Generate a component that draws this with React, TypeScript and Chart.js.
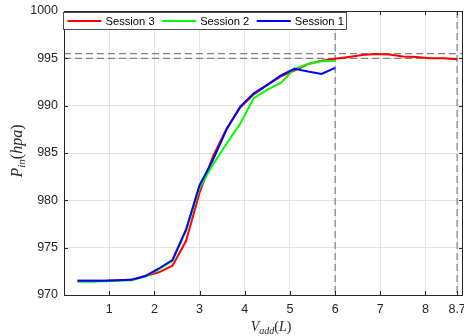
import React, { useEffect, useRef } from "react";
import { Chart, registerables } from "chart.js";

Chart.register(...registerables);

// ---- data ----
const xShort = [0.3, 0.6, 0.9, 1.2, 1.5, 1.8, 2.1, 2.4, 2.7, 3.0, 3.3, 3.6, 3.9, 4.2, 4.5, 4.8, 5.1, 5.4, 5.7, 6.0];
const xLong = [0.3, 0.6, 0.9, 1.2, 1.5, 1.8, 2.1, 2.4, 2.7, 3.0, 3.3, 3.6, 3.9, 4.2, 4.5, 4.8, 5.1, 5.4, 5.7, 6.0, 6.3, 6.6, 6.9, 7.2, 7.5, 7.8, 8.1, 8.4, 8.7];
const session3 = [971.5, 971.5, 971.5, 971.55, 971.65, 972.0, 972.4, 973.1, 975.7, 980.8, 984.7, 987.6, 989.8, 991.2, 992.2, 993.1, 993.7, 994.4, 994.75, 994.95, 995.15, 995.35, 995.45, 995.4, 995.2, 995.15, 995.0, 995.0, 994.9];
const session2 = [971.4, 971.4, 971.45, 971.5, 971.55, 971.95, 972.7, 973.6, 976.8, 981.3, 983.8, 986.0, 988.1, 990.8, 991.7, 992.4, 993.9, 994.4, 994.7, 994.75];
const session1 = [971.5, 971.5, 971.5, 971.55, 971.6, 972.0, 972.8, 973.7, 976.9, 981.6, 984.3, 987.5, 989.9, 991.3, 992.2, 993.2, 993.9, 993.6, 993.35, 994.0];
const seriesLabels = ["Session 3", "Session 2", "Session 1"];
const seriesColors = ["#ff0000", "#00ff00", "#0000ff"];
const xTicks = [1, 2, 3, 4, 5, 6, 7, 8, 8.7];
const yTicks = [970, 975, 980, 985, 990, 995, 1000];
const refLinesY = [995, 995.5];
const refLinesX = [6, 8.7];

const AXIS_COLOR = "#262626";
const SANS = "'Liberation Sans', Arial, sans-serif";
const SERIF = "'Liberation Serif', 'Times New Roman', serif";

type Part = { t: string; italic: boolean; size: number; dy: number };

function drawParts(ctx: CanvasRenderingContext2D, parts: Part[], cx: number, baseline: number) {
  let total = 0;
  const widths = parts.map((p) => {
    ctx.font = `${p.italic ? "italic " : ""}${p.size}px ${SERIF}`;
    const w = ctx.measureText(p.t).width;
    total += w;
    return w;
  });
  let x = cx - total / 2;
  parts.forEach((p, i) => {
    ctx.font = `${p.italic ? "italic " : ""}${p.size}px ${SERIF}`;
    ctx.fillText(p.t, x, baseline + p.dy);
    x += widths[i];
  });
}

const refLinesPlugin = {
  id: "refLines",
  beforeDatasetsDraw(chart: any) {
    const { ctx, chartArea: a, scales } = chart;
    ctx.save();
    ctx.strokeStyle = "#808080";
    ctx.lineWidth = 1.2;
    ctx.setLineDash([7, 4]);
    refLinesY.forEach((v) => {
      const y = scales.y.getPixelForValue(v);
      ctx.beginPath();
      ctx.moveTo(a.left, y);
      ctx.lineTo(a.right, y);
      ctx.stroke();
    });
    refLinesX.forEach((v) => {
      const x = scales.x.getPixelForValue(v);
      ctx.beginPath();
      ctx.moveTo(x, a.top);
      ctx.lineTo(x, a.bottom);
      ctx.stroke();
    });
    ctx.restore();
  },
};

const framePlugin = {
  id: "frame",
  afterDatasetsDraw(chart: any) {
    const { ctx, chartArea: a, scales } = chart;
    ctx.save();
    // box
    ctx.strokeStyle = AXIS_COLOR;
    ctx.lineWidth = 1;
    ctx.strokeRect(a.left + 0.5, a.top + 0.5, a.right - a.left - 1, a.bottom - a.top);
    // inward ticks
    ctx.beginPath();
    xTicks.forEach((v) => {
      const x = Math.round(scales.x.getPixelForValue(v)) + 0.5;
      ctx.moveTo(x, a.bottom);
      ctx.lineTo(x, a.bottom - 4);
      ctx.moveTo(x, a.top);
      ctx.lineTo(x, a.top + 4);
    });
    yTicks.forEach((v) => {
      const y = Math.round(scales.y.getPixelForValue(v)) + 0.5;
      ctx.moveTo(a.left, y);
      ctx.lineTo(a.left + 4, y);
      ctx.moveTo(a.right, y);
      ctx.lineTo(a.right - 4, y);
    });
    ctx.stroke();

    // legend
    ctx.font = `11.2px ${SANS}`;
    const boxLeft = a.left - 0.5;
    const boxTop = a.top + 1.5;
    const boxH = 17;
    let x = boxLeft + 4;
    const items = seriesLabels.map((lab, i) => {
      const lx = x;
      const tx = x + 38;
      const tw = ctx.measureText(lab).width;
      x = tx + tw + 7.5;
      return { lab, color: seriesColors[i], lx, tx };
    });
    const boxRight = x - 7.5 + 2.5;
    ctx.fillStyle = "#ffffff";
    ctx.fillRect(boxLeft, boxTop, boxRight - boxLeft, boxH);
    ctx.strokeStyle = AXIS_COLOR;
    ctx.lineWidth = 0.8;
    ctx.strokeRect(boxLeft, boxTop, boxRight - boxLeft, boxH);
    const cy = boxTop + boxH / 2;
    items.forEach((it) => {
      ctx.strokeStyle = it.color;
      ctx.lineWidth = 2;
      ctx.beginPath();
      ctx.moveTo(it.lx, cy);
      ctx.lineTo(it.lx + 34, cy);
      ctx.stroke();
      ctx.fillStyle = "#000000";
      ctx.textBaseline = "middle";
      ctx.fillText(it.lab, it.tx, cy + 0.5);
    });
    ctx.restore();
  },
  afterDraw(chart: any) {
    const { ctx } = chart;
    ctx.save();
    ctx.fillStyle = AXIS_COLOR;
    ctx.textBaseline = "alphabetic";
    // x title
    drawParts(
      ctx,
      [
        { t: "V", italic: true, size: 14, dy: 0 },
        { t: "add", italic: true, size: 10, dy: 3 },
        { t: "(", italic: false, size: 14, dy: 0 },
        { t: "L", italic: true, size: 14, dy: 0 },
        { t: ")", italic: false, size: 14, dy: 0 },
      ],
      271,
      331
    );
    // y title
    ctx.translate(22, 151);
    ctx.rotate(-Math.PI / 2);
    drawParts(
      ctx,
      [
        { t: "P", italic: true, size: 16, dy: 0 },
        { t: "in", italic: true, size: 11, dy: 3 },
        { t: "(", italic: false, size: 16, dy: 0 },
        { t: "hpa", italic: true, size: 16, dy: 0 },
        { t: ")", italic: false, size: 16, dy: 0 },
      ],
      0,
      0
    );
    ctx.restore();
  },
};

export default function App() {
  const ref = useRef<HTMLCanvasElement | null>(null);
  useEffect(() => {
    if (!ref.current) return;
    const mk = (xs: number[], ys: number[]) => xs.map((x, i) => ({ x, y: ys[i] }));
    const seriesData = [mk(xLong, session3), mk(xShort, session2), mk(xShort, session1)];
    const chart = new Chart(ref.current, {
      type: "line",
      data: {
        datasets: seriesLabels.map((lab, i) => ({
          label: lab,
          data: seriesData[i],
          borderColor: seriesColors[i],
          backgroundColor: seriesColors[i],
          borderWidth: 2,
          pointRadius: 0,
          tension: 0,
          fill: false,
          order: 2 - i,
        })),
      },
      options: {
        animation: false,
        responsive: false,
        events: [],
        layout: { padding: { top: 11, right: 1, left: 0, bottom: 0 } },
        plugins: { legend: { display: false }, tooltip: { enabled: false }, title: { display: false } },
        scales: {
          x: {
            type: "linear",
            min: 0,
            max: 8.83,
            afterBuildTicks: (s: any) => {
              s.ticks = xTicks.map((v) => ({ value: v }));
            },
            afterFit: (s: any) => {
              s.height = 41;
              s.paddingLeft = 0;
              s.paddingRight = 0;
            },
            ticks: {
              autoSkip: false,
              maxRotation: 0,
              padding: 7,
              color: AXIS_COLOR,
              font: { family: SANS, size: 12.5 },
              callback: (v: any) => String(v),
            },
            grid: { color: "#e3e3e3", drawTicks: false, lineWidth: 1 },
            border: { display: false },
          },
          y: {
            type: "linear",
            min: 970,
            max: 1000,
            afterBuildTicks: (s: any) => {
              s.ticks = yTicks.map((v) => ({ value: v }));
            },
            afterFit: (s: any) => {
              s.width = 64;
              s.paddingTop = 0;
              s.paddingBottom = 0;
            },
            ticks: {
              autoSkip: false,
              padding: 6,
              color: AXIS_COLOR,
              font: { family: SANS, size: 12.5 },
              callback: (v: any) => String(v),
            },
            grid: { color: "#e3e3e3", drawTicks: false, lineWidth: 1 },
            border: { display: false },
          },
        },
      },
      plugins: [refLinesPlugin, framePlugin],
    } as any);
    return () => chart.destroy();
  }, []);
  return (
    <div style={{ position: "fixed", left: 0, top: 0, width: 464, height: 336, background: "#fff" }}>
      <canvas ref={ref} width={464} height={336} style={{ display: "block", width: 464, height: 336 }} />
    </div>
  );
}
